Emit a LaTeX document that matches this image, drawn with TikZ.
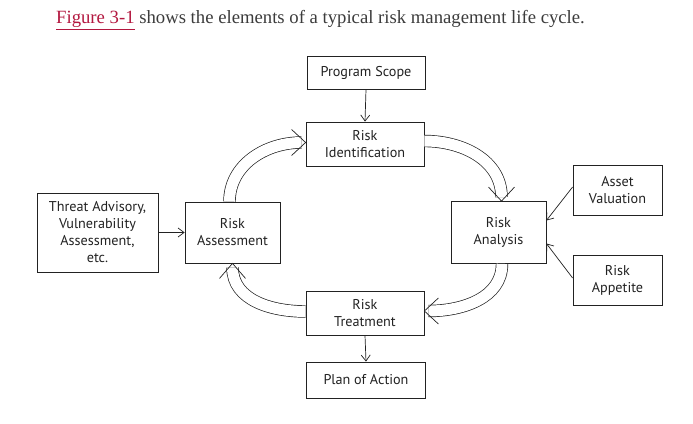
\documentclass[tikz,border=0pt]{standalone}
\usepackage{fontspec}
\setmainfont{Liberation Serif}
\newfontfamily\boxfont{PT Sans}
\usetikzlibrary{arrows.meta}
\definecolor{ink}{HTML}{222222}
\definecolor{linkred}{HTML}{B3173F}
\definecolor{hdr}{HTML}{3C3C3C}
\begin{document}
\begin{tikzpicture}[x=1pt,y=1pt,
  box/.style={draw=ink, line width=0.8pt, align=center, text=ink, inner sep=0pt,
    font=\boxfont\fontsize{14.2}{17}\selectfont},
  thinarrow/.style={draw=ink, line width=0.7pt, -{Straight Barb[length=6pt,width=9pt]}},
  band/.style={draw=ink, line width=0.7pt, double=white, double distance=11pt},
  chev/.style={draw=ink, line width=0.7pt}]
\useasboundingbox[fill=white] (0,0) rectangle (693,423);

\node[anchor=base west, inner sep=0pt, text=hdr, font=\fontsize{18.7}{22}\selectfont] (hd) at (56,399)
  {\textcolor{linkred}{\underline{Figure 3-1}} shows the elements of a typical risk management life cycle.};

\node[box, minimum width=118pt, minimum height=33pt] (ps) at (366,350.5) {Program Scope};
\node[box, minimum width=118pt, minimum height=44pt] (ri) at (365,279) {Risk\\Identification};
\node[box, minimum width=95pt, minimum height=61pt] (ra) at (232.5,190.5) {Risk\\Assessment};
\node[box, minimum width=121pt, minimum height=79pt] (ta) at (97.5,190.5) {Threat Advisory,\\Vulnerability\\Assessment,\\etc.};
\node[box, minimum width=95pt, minimum height=62pt] (an) at (498.5,190.5) {Risk\\Analysis};
\node[box, minimum width=89pt, minimum height=50pt] (av) at (617.5,233) {Asset\\Valuation};
\node[box, minimum width=89pt, minimum height=50pt] (ap) at (617.5,143) {Risk\\Appetite};
\node[box, minimum width=118pt, minimum height=44pt] (rt) at (365,110) {Risk\\Treatment};
\node[box, minimum width=119pt, minimum height=36pt] (pa) at (366,43) {Plan of Action};

% straight connectors
\draw[thinarrow] (ps.south) -- (ri.north);
\draw[thinarrow] (ta.east) -- (ra.west);
\draw[thinarrow] ([yshift=3pt]av.west) -- ([yshift=12pt]an.east);
\draw[thinarrow] ([yshift=2pt]ap.west) -- ([yshift=-11pt]an.east);
\draw[thinarrow] (rt.south) -- (pa.north);

% tips of the wide arrows
\coordinate (tA) at ([yshift=1.5pt]ri.west);
\coordinate (tB) at ([xshift=3pt]an.north);
\coordinate (tC) at ([yshift=2pt]rt.east);
\coordinate (tD) at (ra.south);

% wide cycle arrows
\draw[band] ([xshift=-3pt]ra.north) to[out=90,in=180] ([xshift=-4pt]tA);
\draw[chev] ([shift={(-14,13)}]tA) -- (tA) -- ([shift={(-14,-13)}]tA);

\draw[band] ([yshift=3pt]ri.east) to[out=0,in=90] ([yshift=4pt]tB);
\draw[chev] ([shift={(-13,14)}]tB) -- (tB) -- ([shift={(13,14)}]tB);

\draw[band] ([xshift=3.5pt]an.south) to[out=-90,in=0] ([xshift=4pt]tC);
\draw[chev] ([shift={(14,13)}]tC) -- (tC) -- ([shift={(14,-13)}]tC);

\draw[band] ([yshift=1.5pt]rt.west) to[out=180,in=-90] ([yshift=-4pt]tD);
\draw[chev] ([shift={(-13,-15)}]tD) -- (tD) -- ([shift={(13,-15)}]tD);
\end{tikzpicture}
\end{document}
